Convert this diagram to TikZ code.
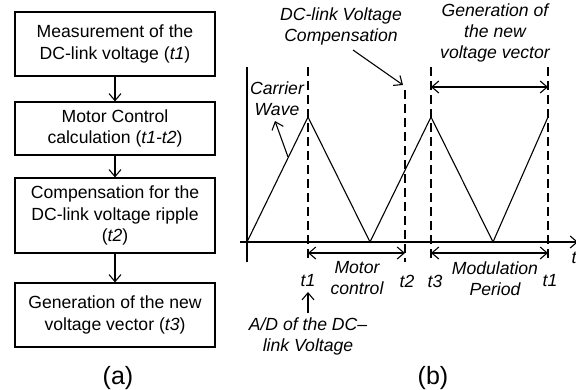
\documentclass[tikz,border=0pt]{standalone}
\usepackage{fontspec}
\setmainfont{Liberation Sans}
\usetikzlibrary{arrows.meta}
\begin{document}
\begin{tikzpicture}[x=1pt,y=-1pt,
  every node/.style={font=\fontsize{17.6}{21.5}\selectfont, inner sep=0pt},
  box/.style={draw, line width=1.2pt, minimum width=200pt, align=center},
  lbl/.style={font=\fontsize{17.6}{21}\selectfont\itshape, align=center},
  con/.style={line width=1.1pt},
  arr/.style={con, -{Straight Barb[length=7pt,width=12pt,line width=1.1pt]}},
  darr/.style={con, {Straight Barb[length=7pt,width=12pt,line width=1.1pt]}-{Straight Barb[length=7pt,width=12pt,line width=1.1pt]}},
  dashline/.style={con, dash pattern=on 9pt off 5pt},
  figcaption/.style={font=\fontsize{25}{27}\selectfont}]
\useasboundingbox (0,0) rectangle (576,389);
% (a) flow chart
\node[box, minimum height=64pt] (b1) at (115,44) {Measurement of the\\DC-link voltage (\textit{t1})};
\node[box, minimum height=53pt] (b2) at (115,128.5) {Motor Control\\calculation (\textit{t1-t2})};
\node[box, minimum height=75pt] (b3) at (115,215.5) {Compensation for the\\DC-link voltage ripple\\(\textit{t2})};
\node[box, minimum height=64pt] (b4) at (115,315) {Generation of the new\\voltage vector (\textit{t3})};
\draw[arr] (b1) -- (b2);
\draw[arr] (b2) -- (b3);
\draw[arr] (b3) -- (b4);
\node[figcaption] (la) at (118,378) {(a)};
% (b) timing diagram
\coordinate (o) at (247,242);
\coordinate (ytop) at (247,67);
\coordinate (ybot) at (247,262);
\coordinate (xl) at (240,242);
\coordinate (xr) at (578,242);
\draw[con] (ytop) -- (ybot);
\draw[arr] (xl) -- (xr);
\node[lbl] (tax) at (574,258) {t};
% carrier
\coordinate (p1) at (308,117);
\coordinate (v1) at (370,242);
\coordinate (p2) at (431,117);
\coordinate (v2) at (493,242);
\coordinate (p3) at (548,117);
\draw[con] (o) -- (p1) -- (v1) -- (p2) -- (v2) -- (p3);
% dashed lines
\coordinate (d1t) at (308,67);  \coordinate (d1b) at (308,258);
\coordinate (d2t) at (405,90);  \coordinate (d2b) at (405,262);
\coordinate (d3t) at (431,67);  \coordinate (d3b) at (431,258);
\coordinate (d4t) at (548,67);  \coordinate (d4b) at (548,262);
\draw[dashline] (d1t) -- (d1b);
\draw[dashline] (d2t) -- (d2b);
\draw[dashline] (d3t) -- (d3b);
\draw[dashline] (d4t) -- (d4b);
% double arrows
\coordinate (g1) at (431,87); \coordinate (g2) at (548,87);
\draw[darr] (g1) -- (g2);
\coordinate (m1) at (308,253); \coordinate (m2) at (405,253);
\draw[darr] (m1) -- (m2);
\coordinate (n1) at (431,253); \coordinate (n2) at (548,253);
\draw[darr] (n1) -- (n2);
% labels
\node[lbl] (gen) at (495,33) {Generation of\\the new\\voltage vector};
\node[lbl] (comp) at (341,26.5) {DC-link Voltage\\Compensation};
\coordinate (ca) at (353,50); \coordinate (cb) at (403,85);
\draw[arr] (ca) -- (cb);
\node[lbl] (carr) at (277,99) {Carrier\\Wave};
\coordinate (wa) at (288,157); \coordinate (wb) at (275,121);
\draw[arr] (wa) -- (wb);
\node[lbl] (t1a) at (308,281) {t1};
\node[lbl] (t2) at (407,281) {t2};
\node[lbl] (t3) at (435,281) {t3};
\node[lbl] (t1b) at (550,281) {t1};
\node[lbl] (mc) at (357,278.5) {Motor\\control};
\node[lbl] (mp) at (495,278.5) {Modulation\\Period};
\coordinate (ad1) at (308,313); \coordinate (ad2) at (308,292);
\draw[arr] (ad1) -- (ad2);
\node[lbl] (adl) at (308,336.5) {A/D of the DC--\\link Voltage};
\node[figcaption] (lb) at (433,378) {(b)};
\end{tikzpicture}
\end{document}
